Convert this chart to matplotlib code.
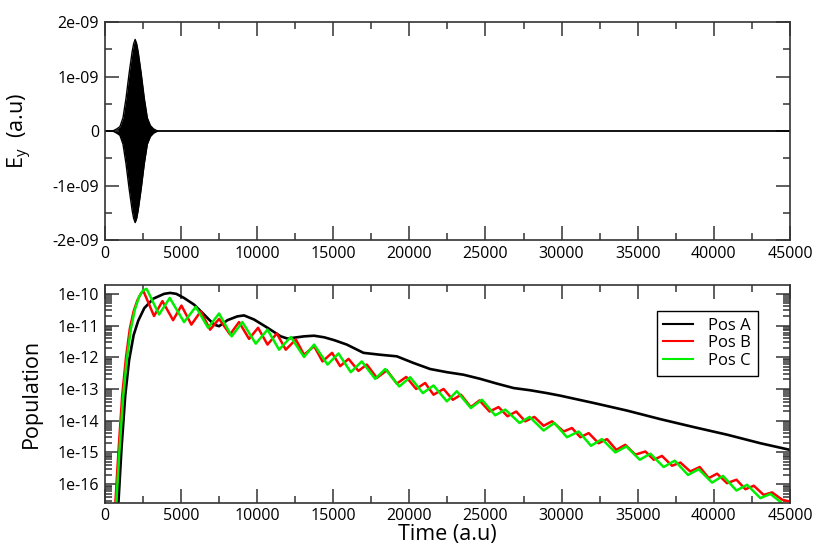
import numpy as np
import matplotlib.pyplot as plt
from matplotlib.ticker import MultipleLocator, LogLocator, NullFormatter

plt.rcParams['font.family'] = ['Open Sans', 'DejaVu Sans']

# Top panel: envelope of the E_y pulse (a.u.)
pulse_time = [0, 450, 600, 800, 1000, 1200, 1400, 1600, 1800, 1900, 2000,
              2100, 2200, 2400, 2600, 2800, 3000, 3200, 3400, 3550, 45000]
pulse_env = [0, 0, 0.01e-9, 0.04e-9, 0.08e-9, 0.24e-9, 0.6e-9, 1.05e-9, 1.45e-9,
             1.6e-9, 1.68e-9, 1.6e-9, 1.45e-9, 1.05e-9, 0.6e-9, 0.24e-9,
             0.1e-9, 0.04e-9, 0.01e-9, 0, 0]

# Bottom panel: populations, stored as log10 values
pos_a_time = [900, 1100, 1350, 1600, 1900, 2200, 2600, 3200, 3900, 4300, 4700,
              5210, 5870, 6520, 7180, 7510, 8060, 8710, 9150, 9810, 10690,
              11560, 12000, 13090, 13750, 14410, 15070, 15900, 16990, 18090,
              19180, 20280, 21370, 22470, 23560, 24660, 25750, 26850, 27940,
              29040, 29910, 32100, 34290, 36480, 38670, 40860, 43050, 45000]
pos_a_log = [-16.6, -14.9, -13.2, -12.1, -11.3, -10.85, -10.45, -10.15, -10.0,
             -9.97, -10.0, -10.13, -10.34, -10.65, -10.97, -11.02, -10.83,
             -10.71, -10.68, -10.81, -11.07, -11.34, -11.41, -11.34, -11.32,
             -11.37, -11.46, -11.6, -11.86, -11.92, -11.97, -12.18, -12.37,
             -12.47, -12.55, -12.68, -12.83, -12.97, -13.04, -13.13, -13.21,
             -13.44, -13.68, -13.95, -14.2, -14.44, -14.71, -14.92]

pos_b_time = [700, 900, 1150, 1400, 1650, 1900, 2150, 2400, 2550,
              3240, 3790, 4490, 5040, 5690, 6310, 6920, 7510, 8230, 8820,
              9480, 10070, 10690, 11300, 11890, 12550, 13090, 13750, 14300,
              14930, 15460, 16010, 16660, 17210, 17870, 18530, 19180, 19800,
              20450, 21040, 21590, 22250, 22860, 23390, 24040, 24610, 25270,
              25860, 26450, 27020, 27610, 28210, 28820, 29370, 30130, 30680,
              31230, 31780, 32430, 32980, 33590, 34180, 34840, 35500, 36050,
              36590, 37250, 37800, 38450, 39070, 39660, 40210, 40860, 41480,
              42070, 42620, 43270, 43820, 44480, 45000]
pos_b_log = [-16.6, -15.0, -13.2, -12.0, -11.1, -10.55, -10.2, -9.97, -9.92,
             -10.7, -10.23, -10.83, -10.37, -10.97, -10.55, -11.13, -10.79,
             -11.28, -10.89, -11.42, -11.07, -11.6, -11.25, -11.76, -11.44,
             -11.92, -11.65, -12.13, -11.86, -12.28, -12.05, -12.43, -12.23,
             -12.65, -12.41, -12.83, -12.62, -13.0, -12.81, -13.18, -13.0,
             -13.34, -13.18, -13.57, -13.36, -13.71, -13.57, -13.86, -13.71,
             -14.02, -13.88, -14.16, -14.02, -14.34, -14.23, -14.52, -14.39,
             -14.71, -14.58, -14.92, -14.76, -15.07, -14.97, -15.23, -15.11,
             -15.42, -15.32, -15.6, -15.46, -15.81, -15.67, -15.97, -15.86,
             -16.16, -16.05, -16.34, -16.26, -16.49, -16.55]

pos_c_time = [760, 960, 1220, 1470, 1720, 1980, 2250, 2500, 2750,
              3570, 4270, 5210, 5980, 6790, 7510, 8340, 9040, 9920, 10690,
              11450, 12220, 13090, 13750, 14630, 15350, 16160, 16880, 17760,
              18420, 19340, 20060, 20890, 21590, 22470, 23120, 24040, 24770,
              25640, 26300, 27240, 27900, 28820, 29520, 30350, 31120, 31930,
              32650, 33530, 34250, 35130, 35830, 36700, 37430, 38300, 39000,
              39880, 40600, 41480, 42180, 43050, 43710, 44480]
pos_c_log = [-16.6, -15.0, -13.2, -12.0, -11.1, -10.5, -10.1, -9.9, -9.84,
             -10.65, -10.13, -10.89, -10.41, -11.07, -10.62, -11.34, -10.89,
             -11.57, -11.13, -11.76, -11.36, -11.99, -11.6, -12.23, -11.88,
             -12.47, -12.13, -12.68, -12.37, -12.92, -12.63, -13.13, -12.89,
             -13.39, -13.07, -13.6, -13.34, -13.83, -13.65, -14.07, -13.88,
             -14.31, -14.07, -14.52, -14.34, -14.79, -14.58, -15.0, -14.81,
             -15.23, -15.04, -15.46, -15.26, -15.71, -15.53, -15.95, -15.74,
             -16.2, -16.02, -16.44, -16.31, -16.6]

x_ticks = [0, 5000, 10000, 15000, 20000, 25000, 30000, 35000, 40000, 45000]
ey_ticks = [-2e-9, -1e-9, 0, 1e-9, 2e-9]
ey_labels = ['-2e-09', '-1e-09', '0', '1e-09', '2e-09']
pop_ticks = [1e-16, 1e-15, 1e-14, 1e-13, 1e-12, 1e-11, 1e-10]
pop_labels = ['1e-16', '1e-15', '1e-14', '1e-13', '1e-12', '1e-11', '1e-10']


def style_axes(ax):
    # xmgrace look: inward ticks on all four sides
    for s in ax.spines.values():
        s.set_color('#333333')
        s.set_linewidth(1.2)
    ax.tick_params(which='both', direction='in', top=True, right=True,
                   colors='#333333', labelcolor='black', labelsize=11.5, width=1.1)
    ax.tick_params(which='major', length=10, pad=4)
    ax.tick_params(which='minor', length=5)


fig = plt.figure(figsize=(8.16, 5.5), dpi=100)

# Top panel: electric field pulse
ax1 = fig.add_axes([0.1283, 0.5636, 0.8399, 0.3964])
env = np.array(pulse_env)
ax1.fill_between(pulse_time, -env, env, color='black', lw=0)
ax1.plot(pulse_time, env, color='black', lw=1)
ax1.plot(pulse_time, -env, color='black', lw=1)
ax1.set_xlim(0, 45000)
ax1.set_ylim(-2e-9, 2e-9)
ax1.set_xticks(x_ticks)
ax1.set_yticks(ey_ticks, ey_labels)
ax1.xaxis.set_minor_locator(MultipleLocator(2500))
ax1.yaxis.set_minor_locator(MultipleLocator(0.5e-9))
ax1.set_ylabel(r'E$_\mathregular{y}$  (a.u)', fontsize=15.5)
ax1.yaxis.set_label_coords(-0.103, 0.5)
style_axes(ax1)

# Bottom panel: populations on log scale
ax2 = fig.add_axes([0.1283, 0.086, 0.8399, 0.3958])
ax2.plot(pos_a_time, 10 ** np.array(pos_a_log), color='black', lw=1.9, label='Pos A')
ax2.plot(pos_b_time, 10 ** np.array(pos_b_log), color='#ff0000', lw=1.8, label='Pos B')
ax2.plot(pos_c_time, 10 ** np.array(pos_c_log), color='#00ee00', lw=1.8, label='Pos C')
ax2.set_yscale('log')
ax2.set_xlim(0, 45000)
ax2.set_ylim(2.6e-17, 1.9e-10)
ax2.set_xticks(x_ticks)
ax2.xaxis.set_minor_locator(MultipleLocator(2500))
ax2.set_yticks(pop_ticks, pop_labels)
ax2.yaxis.set_minor_locator(LogLocator(base=10, subs=range(2, 10), numticks=20))
ax2.yaxis.set_minor_formatter(NullFormatter())
ax2.set_xlabel('Time (a.u)', fontsize=15.5, labelpad=0)
ax2.set_ylabel('Population', fontsize=15.5)
ax2.yaxis.set_label_coords(-0.091, 0.5)
style_axes(ax2)

leg = ax2.legend(loc='upper right', bbox_to_anchor=(0.953, 0.881), fontsize=12,
                 fancybox=False, framealpha=1, edgecolor='black',
                 handlelength=1.8, handletextpad=0.9, labelspacing=0.1,
                 borderpad=0.4, borderaxespad=0)
leg.get_frame().set_linewidth(1.0)
for line in leg.get_lines():
    line.set_linewidth(1.5)

fig.savefig('out.png', dpi=100)
